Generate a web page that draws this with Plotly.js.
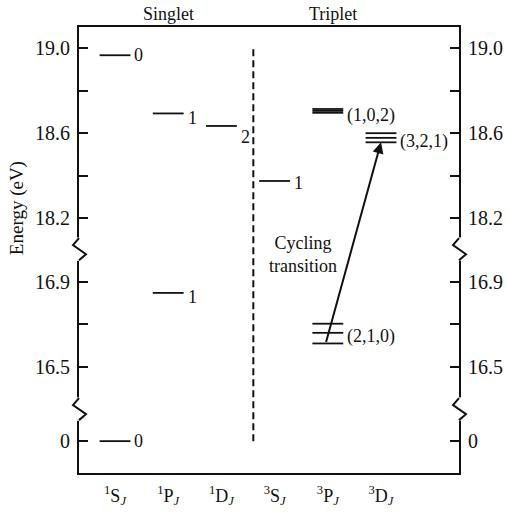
<!DOCTYPE html>
<html>
<head>
<meta charset="utf-8">
<script src="https://cdn.plot.ly/plotly-3.0.1.min.js"></script>
<style>
  html, body { margin: 0; padding: 0; background: #fff; }
  #chart { width: 510px; height: 512px; }
</style>
</head>
<body>
<div id="chart"></div>
<script>
// Term columns along the horizontal axis
const termLabels = [
  '<sup>1</sup>S<sub><i>J</i></sub>',
  '<sup>1</sup>P<sub><i>J</i></sub>',
  '<sup>1</sup>D<sub><i>J</i></sub>',
  '<sup>3</sup>S<sub><i>J</i></sub>',
  '<sup>3</sup>P<sub><i>J</i></sub>',
  '<sup>3</sup>D<sub><i>J</i></sub>'
];

// Level groups: term column, J label, level energies (eV)
const groupTerm   = [0, 0, 1, 1, 2, 3, 4, 4, 5];
const groupJ      = ['0', '0', '1', '1', '2', '1', '(2,1,0)', '(1,0,2)', '(3,2,1)'];
const groupLevels = [
  [0],
  [18.967],
  [16.848],
  [18.693],
  [18.634],
  [18.375],
  [16.610, 16.660, 16.703],
  [18.696, 18.705, 18.714],
  [18.557, 18.578, 18.600]
];

// Cycling transition: 3P (J=2) -> 3D (J=3)
const cycleFromTerm = 4, cycleFromEnergy = 16.610;
const cycleToTerm   = 5, cycleToEnergy   = 18.557;

// Energy ticks (eV); unlabelled minor ticks in between
const tickEnergy = [0, 16.5, 16.7, 16.9, 18.2, 18.4, 18.6, 18.8, 19.0];
const tickText   = ['0', '16.5', '', '16.9', '18.2', '', '18.6', '', '19.0'];

// Singlet / triplet headings and the separator between them
const headingText = ['Singlet', 'Triplet'];
const headingTerm = [1, 4.1];
const separatorTerm = 2.6;
const separatorEnergy = [0, 19.0];

// ---- broken energy axis: three bands stacked on one axis ----
const bands = [
  { lo: -1.0,  hi: 0.2,   shift: 17.15 },
  { lo: 16.2,  hi: 17.05, shift: 1.0 },
  { lo: 18.0,  hi: 19.5,  shift: 0.0 }
];
function toAxis(e) {
  for (const b of bands) if (e >= b.lo && e <= b.hi) return e + b.shift;
  return null;
}
// gaps on the axis where the zigzag breaks are drawn
const breaks = [[17.249, 17.353], [18.002, 18.106]];

const halfWidth = 0.29;
const ink = '#111';
const serif = 'Liberation Serif, Times New Roman, serif';

// level lines
const lx = [], ly = [];
groupLevels.forEach((levels, g) => {
  levels.forEach(e => {
    const c = groupTerm[g];
    lx.push(c - halfWidth, c + halfWidth, null);
    const y = toAxis(e);
    ly.push(y, y, null);
  });
});

const traces = [
  {
    type: 'scatter', mode: 'lines', x: lx, y: ly,
    line: { color: ink, width: 1.8 },
    hoverinfo: 'skip', showlegend: false, cliponaxis: false
  },
  // dashed singlet/triplet separator, on the right-hand energy axis
  {
    type: 'scatter', mode: 'lines', xaxis: 'x', yaxis: 'y2',
    x: separatorEnergy.map(() => separatorTerm),
    y: separatorEnergy.map(toAxis),
    line: { color: ink, width: 2, dash: '7px,4px' },
    hoverinfo: 'skip', showlegend: false
  }
];

// J labels beside each group
const labelShift = [0, 0, -4, -5, -11, -2, -3, -5, -4];
const annotations = groupJ.map((t, g) => {
  const lv = groupLevels[g];
  const mean = lv.reduce((a, b) => a + b, 0) / lv.length;
  return {
    x: groupTerm[g] + halfWidth, y: toAxis(mean), xref: 'x', yref: 'y',
    text: t, showarrow: false, xanchor: 'left', yanchor: 'middle',
    xshift: 2, yshift: labelShift[g],
    font: { family: serif, size: 18, color: ink }
  };
});

// headings
headingText.forEach((t, i) => annotations.push({
  x: headingTerm[i], y: 1, xref: 'x', yref: 'paper',
  text: t, showarrow: false, xanchor: 'center', yanchor: 'bottom', yshift: 1,
  font: { family: serif, size: 18, color: ink }
}));

// energy axis title
annotations.push({
  x: -0.163, y: 0.594, xref: 'paper', yref: 'paper',
  text: 'Energy (eV)', textangle: -90, showarrow: false,
  xanchor: 'center', yanchor: 'middle',
  font: { family: serif, size: 19, color: ink }
});

// cycling transition arrow and its caption
annotations.push({
  x: cycleToTerm, y: toAxis(cycleToEnergy), xref: 'x', yref: 'y',
  ax: cycleFromTerm - 0.04, ay: toAxis(cycleFromEnergy), axref: 'x', ayref: 'y',
  showarrow: true, arrowhead: 2, arrowsize: 1.1, arrowwidth: 2, arrowcolor: ink,
  standoff: 0, startstandoff: 0, text: ''
});
annotations.push({
  x: 3.53, y: toAxis(17.03), xref: 'x', yref: 'y',
  text: 'Cycling<br>transition', showarrow: false,
  xanchor: 'center', yanchor: 'middle', align: 'center',
  font: { family: serif, size: 18, color: ink }
});

// axis break zigzags on both energy axes
const shapes = [];
breaks.forEach(([lo, hi]) => {
  const span = hi - lo;
  [0, 1].forEach(side => {
    shapes.push({
      type: 'line', layer: 'above', xref: 'paper', yref: 'y',
      xsizemode: 'pixel', xanchor: side, x0: 0, x1: 0, y0: lo - 0.003, y1: hi + 0.003,
      line: { color: '#fff', width: 5 }
    });
    const pts = [[0, hi], [-6, hi - 0.32 * span], [7, hi - 0.73 * span], [0, lo]];
    shapes.push({
      type: 'path', layer: 'above', xref: 'paper', yref: 'y',
      xsizemode: 'pixel', xanchor: side,
      path: 'M' + pts.map(p => p[0] + ',' + p[1]).join('L'),
      line: { color: ink, width: 2 }
    });
  });
});

const tickVals = tickEnergy.map(toAxis);
const yCommon = {
  range: [17.0, 19.1], tickmode: 'array', tickvals: tickVals, ticktext: tickText,
  ticks: 'inside', ticklen: 9, tickwidth: 2, tickcolor: ink,
  showline: true, linewidth: 2, linecolor: ink, showgrid: false, zeroline: false,
  tickfont: { family: serif, size: 20, color: ink }, ticklabelstandoff: 3,
  fixedrange: true
};

const layout = {
  width: 510, height: 512,
  margin: { l: 79, r: 51, t: 27, b: 39 },
  paper_bgcolor: '#fff', plot_bgcolor: '#fff',
  showlegend: false,
  xaxis: {
    range: [-0.677, 6.466], tickmode: 'array',
    tickvals: termLabels.map((_, i) => i), ticktext: termLabels,
    ticks: '', showline: true, mirror: true, linewidth: 2, linecolor: ink,
    showgrid: false, zeroline: false, ticklabelstandoff: 5,
    tickfont: { family: serif, size: 18, color: ink }, fixedrange: true
  },
  yaxis: Object.assign({ side: 'left' }, yCommon),
  yaxis2: Object.assign({ side: 'right', overlaying: 'y', anchor: 'x' }, yCommon),
  annotations: annotations,
  shapes: shapes
};

Plotly.newPlot('chart', traces, layout, { staticPlot: true, displayModeBar: false });
</script>
</body>
</html>
